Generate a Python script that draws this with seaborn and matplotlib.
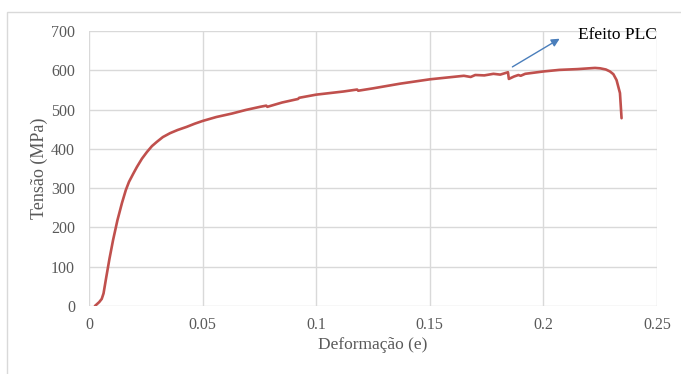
import pandas as pd
import matplotlib.pyplot as plt
import seaborn as sns
from matplotlib.patches import Rectangle

# Curva tensão-deformação
deformacao = [0.0026, 0.0045, 0.0056, 0.0064, 0.0075, 0.0090, 0.0106, 0.0125, 0.0145,
              0.0162, 0.0176, 0.0195, 0.0211, 0.0233, 0.0255, 0.0277, 0.0299, 0.0325,
              0.0357, 0.0390, 0.0430, 0.0465, 0.0500, 0.0560, 0.0630, 0.0690, 0.0753,
              0.0780, 0.0785, 0.0850, 0.0920, 0.0925, 0.1000, 0.1120, 0.1180, 0.1185,
              0.1250, 0.1370, 0.1500, 0.1600, 0.1650, 0.1680, 0.1700, 0.1740, 0.1780,
              0.1810, 0.1844, 0.1848, 0.1870, 0.1890, 0.1900, 0.1920, 0.2000, 0.2070,
              0.2150, 0.2227, 0.2250, 0.2275, 0.2293, 0.2308, 0.2322, 0.2337, 0.2344]
tensao = [0, 10, 18, 32, 70, 120, 168, 218, 262,
          295, 316, 337, 354, 375, 392, 407, 418, 430,
          440, 448, 456, 464, 471, 481, 490, 499, 507,
          510, 507, 518, 527, 530, 538, 546, 551, 548,
          554, 566, 577, 583, 586, 583, 588, 587, 591,
          589, 595, 578, 584, 588, 586, 591, 597, 601,
          603, 606, 605, 602, 597, 590, 575, 542, 478]

x_ticks = [0, 0.05, 0.1, 0.15, 0.2, 0.25]
x_tick_labels = ['0', '0.05', '0.1', '0.15', '0.2', '0.25']
y_ticks = [0, 100, 200, 300, 400, 500, 600, 700]

df = pd.DataFrame({'Deformação': deformacao, 'Tensão': tensao})

sns.set_theme(style='whitegrid')
plt.rcParams['font.family'] = ['Liberation Serif', 'DejaVu Serif']

fig = plt.figure(figsize=(6.81, 3.74), dpi=100)
ax = fig.add_axes([89 / 681, 68 / 374, 568 / 681, 275 / 374])

sns.lineplot(x='Deformação', y='Tensão', data=df, ax=ax, color='#C0504D',
             linewidth=1.9, sort=False, estimator=None)

ax.set_xlim(0, 0.25)
ax.set_ylim(0, 700)
ax.set_xticks(x_ticks)
ax.set_xticklabels(x_tick_labels)
ax.set_yticks(y_ticks)
ax.grid(True, color='#d9d9d9', linewidth=1)
for s in ax.spines.values():
    s.set_visible(False)
ax.tick_params(axis='both', length=0, labelsize=11.5, labelcolor='#595959')
ax.tick_params(axis='x', pad=8)
ax.tick_params(axis='y', pad=10)
ax.set_xlabel('Deformação (e)', fontsize=12.5, color='#595959', labelpad=3)
ax.set_ylabel('Tensão (MPa)', fontsize=13, color='#595959', labelpad=2)

# Seta e texto "Efeito PLC"
ax.annotate('', xy=(0.2082, 684), xytext=(0.1853, 605),
            arrowprops=dict(arrowstyle='-|>', color='#4a7ebb', lw=1, mutation_scale=12),
            annotation_clip=False)
ax.text(0.2152, 691, 'Efeito PLC', fontsize=12.5, color='black', va='center',
        ha='left', clip_on=False)

# Moldura externa
fig.patches.append(Rectangle((7 / 681, -0.2), 1.1, (362 / 374) + 0.2,
                             transform=fig.transFigure, fill=False,
                             edgecolor='#d9d9d9', linewidth=1))

fig.savefig('out.png', dpi=100)
